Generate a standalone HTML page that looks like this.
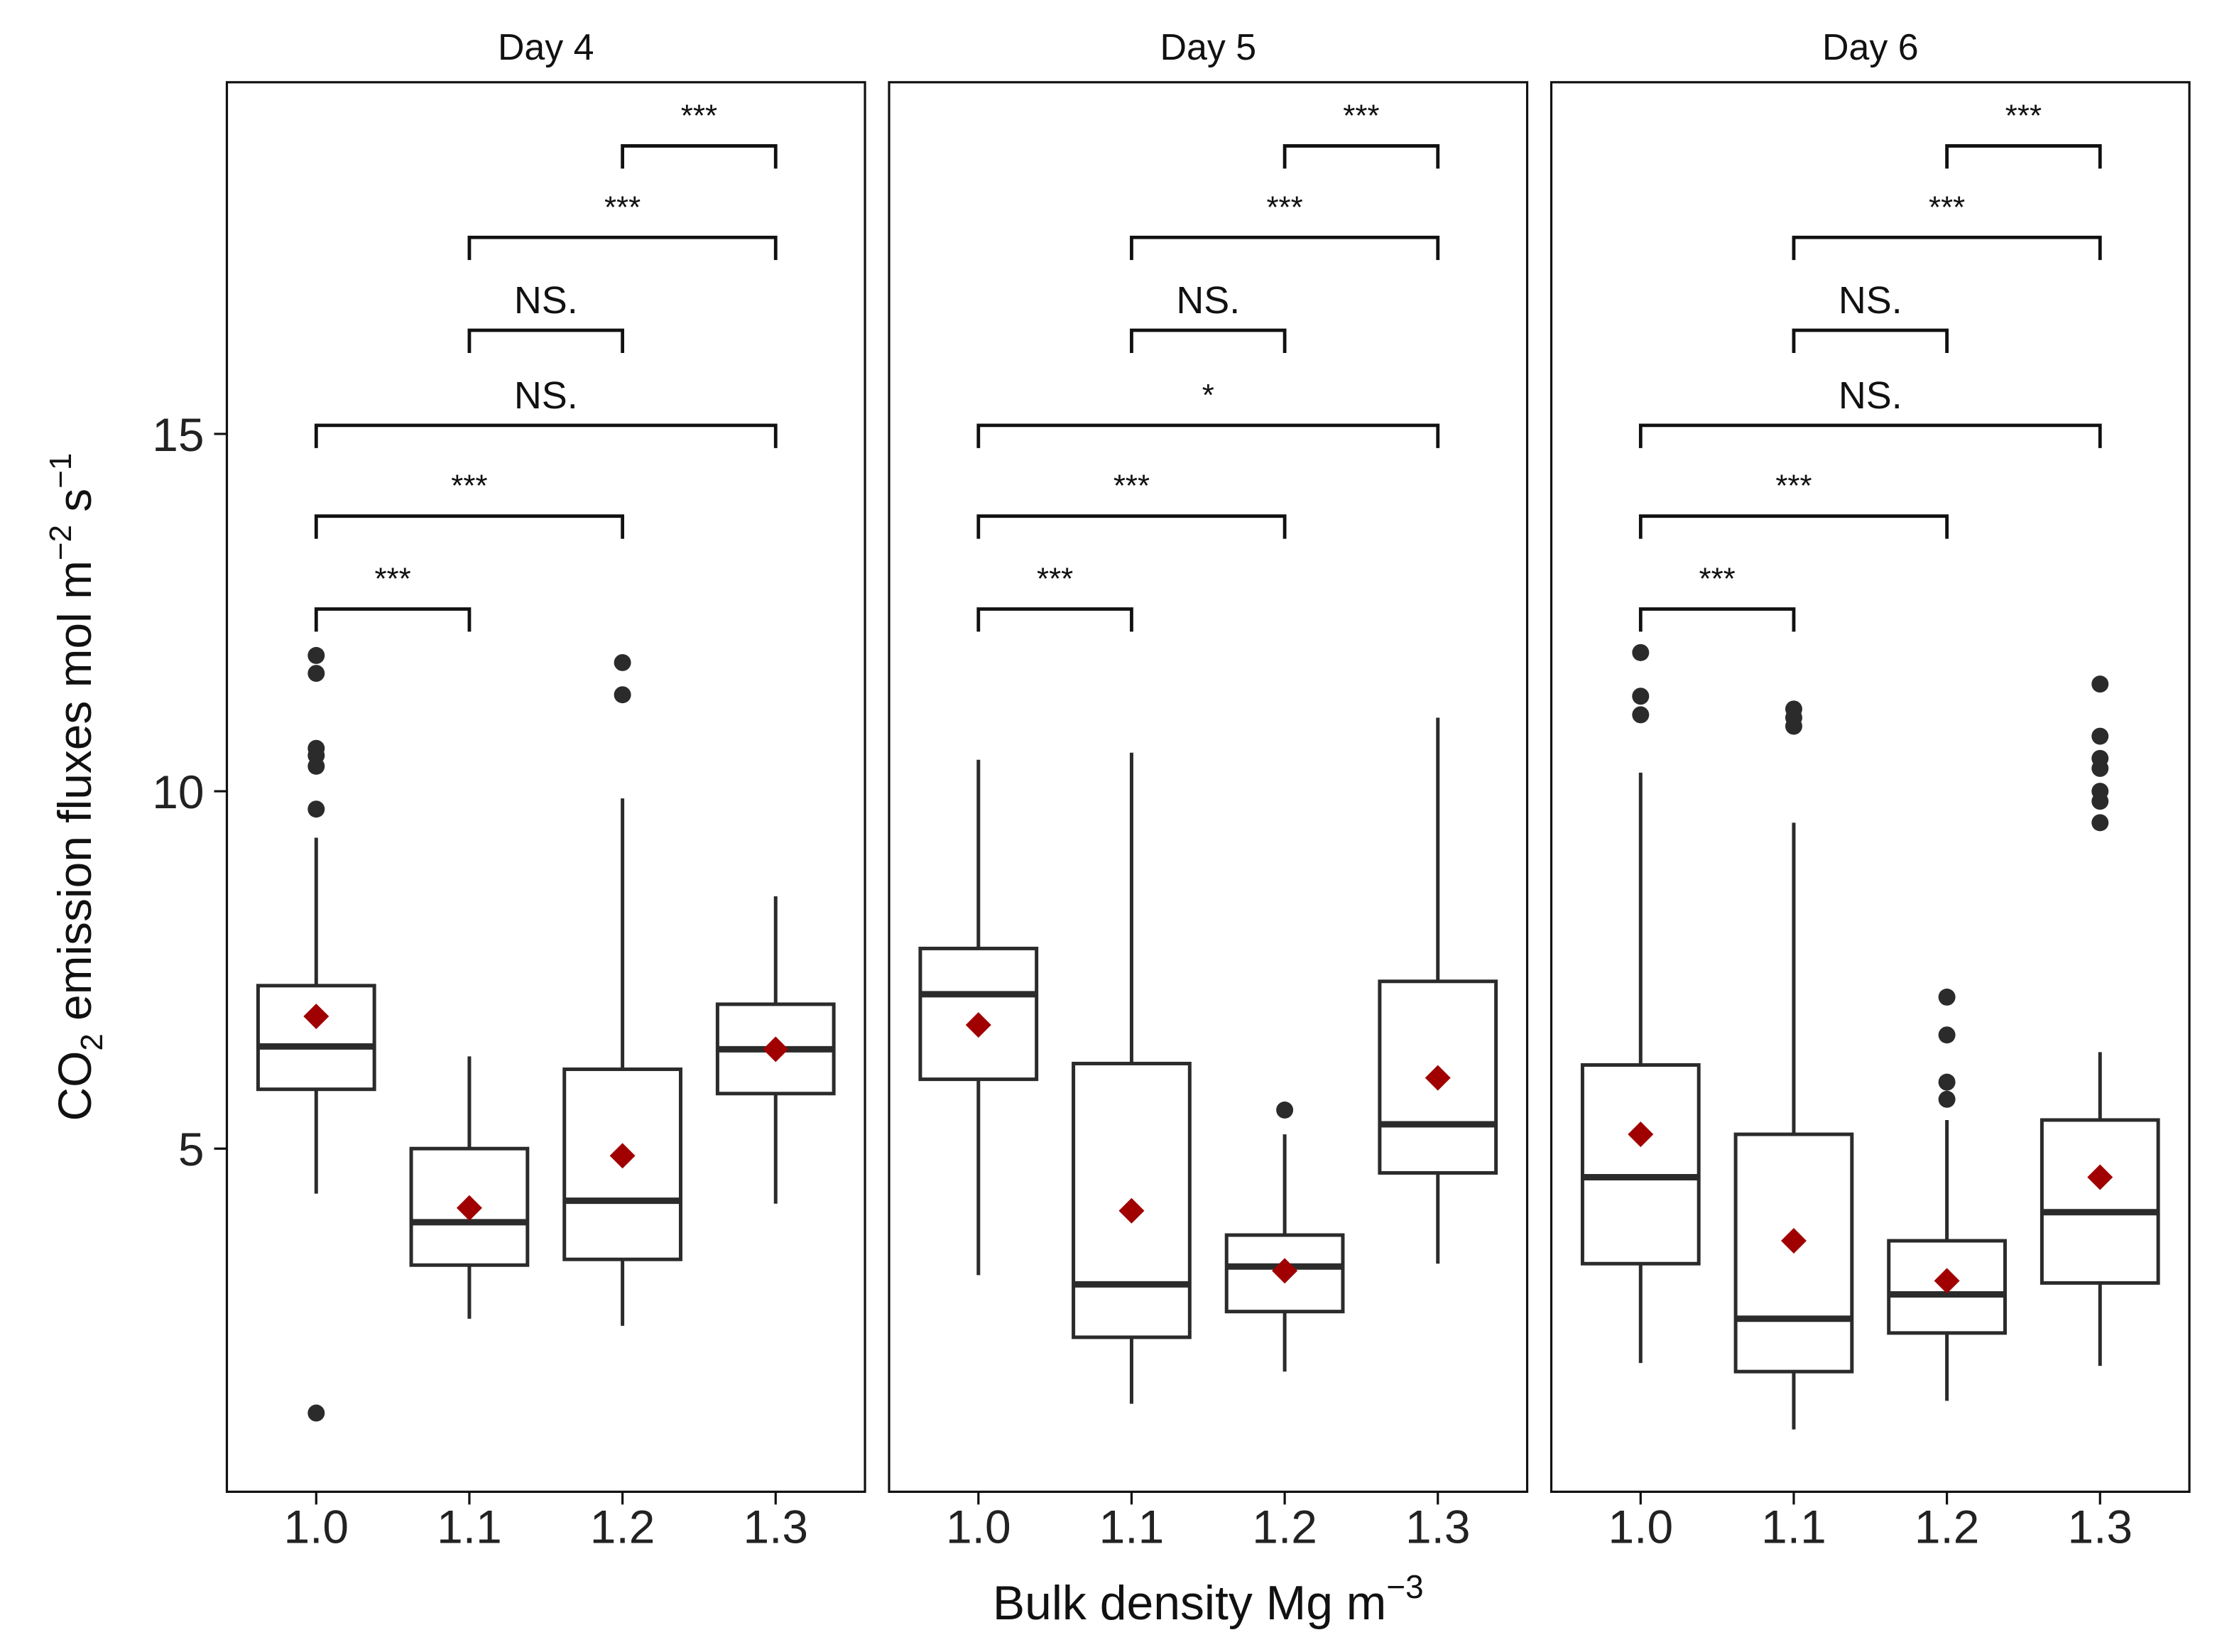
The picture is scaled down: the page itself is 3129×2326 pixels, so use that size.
<!DOCTYPE html>
<html><head><meta charset="utf-8"><style>
html,body{margin:0;padding:0;background:#fff;}
svg{display:block;font-family:"Liberation Sans",Arial,sans-serif;}
</style></head><body>
<svg id="chart" width="3129" height="2326" viewBox="0 0 1567 1165" preserveAspectRatio="none" xmlns="http://www.w3.org/2000/svg">
<rect width="1567" height="1165" fill="#fff"/>
<g id="plot"></g>
<text transform="translate(64,555) rotate(-90)" text-anchor="middle" font-size="33" fill="#111">CO<tspan font-size="22" dy="8">2</tspan><tspan dy="-8"> emission fluxes  mol m</tspan><tspan font-size="22" dy="-14">−2</tspan><tspan dy="14"> s</tspan><tspan font-size="22" dy="-14">−1</tspan></text>
<text x="852" y="1142" text-anchor="middle" font-size="34" fill="#111">Bulk density  Mg m<tspan font-size="23" dy="-15">−3</tspan></text>
</svg>
<script>
const panels = ["Day 4","Day 5","Day 6"];
const categories = ["1.0","1.1","1.2","1.3"];
const yTicks = [5,10,15];
// [low whisker, Q1, median, Q3, high whisker]
const boxesDay4 = [[4.37,5.83,6.43,7.28,9.35],[2.62,3.37,3.97,5.0,6.29],[2.52,3.45,4.27,6.11,9.9],[4.23,5.77,6.39,7.02,8.53]];
const boxesDay5 = [[3.23,5.97,7.16,7.8,10.44],[1.43,2.36,3.1,6.19,10.54],[1.88,2.72,3.35,3.79,5.2],[3.39,4.66,5.34,7.34,11.03]];
const boxesDay6 = [[2.0,3.39,4.6,6.17,10.26],[1.07,1.88,2.62,5.2,9.56],[1.47,2.42,2.96,3.71,5.4],[1.96,3.12,4.11,5.4,6.35]];
const meansDay4 = [6.85,4.17,4.9,6.39];
const meansDay5 = [6.73,4.13,3.29,5.99];
const meansDay6 = [5.2,3.71,3.15,4.6];
const outliersDay4 = [[11.9,11.65,10.6,10.5,10.35,9.75,1.3],[],[11.8,11.35],[]];
const outliersDay5 = [[],[],[5.54],[]];
const outliersDay6 = [[11.94,11.33,11.07],[11.15,11.03,10.91],[5.69,5.93,6.59,7.12],[11.5,10.77,10.46,10.32,10.0,9.86,9.56]];
// brackets: [from, to, level(value), label]
const bracketsDay4 = [[0,1,12.55,"***"],[0,2,13.85,"***"],[0,3,15.12,"NS."],[1,2,16.45,"NS."],[1,3,17.75,"***"],[2,3,19.03,"***"]];
const bracketsDay5 = [[0,1,12.55,"***"],[0,2,13.85,"***"],[0,3,15.12,"*"],[1,2,16.45,"NS."],[1,3,17.75,"***"],[2,3,19.03,"***"]];
const bracketsDay6 = [[0,1,12.55,"***"],[0,2,13.85,"***"],[0,3,15.12,"NS."],[1,2,16.45,"NS."],[1,3,17.75,"***"],[2,3,19.03,"***"]];

const boxes=[boxesDay4,boxesDay5,boxesDay6], means=[meansDay4,meansDay5,meansDay6],
 outs=[outliersDay4,outliersDay5,outliersDay6], brs=[bracketsDay4,bracketsDay5,bracketsDay6];
const panelX=[160,627,1094], panelW=450, panelTop=58, panelBottom=1052;
function yScale(v){return 810-(v-5)*50.4;}
function xScale(p,i){return panelX[p]+63+108*i;}
const SVGNS="http://www.w3.org/2000/svg", plotG=document.getElementById('plot');
function mk(t,a,parent){const e=document.createElementNS(SVGNS,t);for(const k in a)e.setAttribute(k,a[k]);(parent||plotG).appendChild(e);return e;}
const C="#2b2b2b";
panels.forEach((name,p)=>{
  const pg=mk('g',{});
  
  
  const fr=mk('rect',{x:panelX[p],y:panelTop,width:panelW,height:panelBottom-panelTop,fill:'none',stroke:'#111','stroke-width':1.6},pg);
  
  
  const st=mk('text',{x:panelX[p]+panelW/2,y:42,'text-anchor':'middle','font-size':26,fill:'#111'},pg);st.textContent=name;
  
  
  if(p===0){yTicks.forEach(t=>{
    mk('line',{x1:panelX[0]-9,x2:panelX[0],y1:yScale(t),y2:yScale(t),stroke:'#111','stroke-width':1.6},pg);
    const tl=mk('text',{x:panelX[0]-16,y:yScale(t)+12,'text-anchor':'end','font-size':33,fill:'#222'},pg);tl.textContent=t;
    
    
  });}
  categories.forEach((c,i)=>{
    const x=xScale(p,i);
    mk('line',{x1:x,x2:x,y1:panelBottom,y2:panelBottom+9,stroke:'#111','stroke-width':1.6},pg);
    const xl=mk('text',{x:x,y:panelBottom+36,'text-anchor':'middle','font-size':33,fill:'#222'},pg);xl.textContent=c;
    
    
    const b=boxes[p][i];
    const bg=mk('g',{},pg);
    
    
    mk('line',{x1:x,x2:x,y1:yScale(b[0]),y2:yScale(b[1]),stroke:C,'stroke-width':2.5},bg);
    mk('line',{x1:x,x2:x,y1:yScale(b[3]),y2:yScale(b[4]),stroke:C,'stroke-width':2.5},bg);
    mk('rect',{x:x-41,y:yScale(b[3]),width:82,height:yScale(b[1])-yScale(b[3]),fill:'#fff',stroke:C,'stroke-width':2.5},bg);
    mk('line',{x1:x-41,x2:x+41,y1:yScale(b[2]),y2:yScale(b[2]),stroke:C,'stroke-width':4.5},bg);
    outs[p][i].forEach(o=>{const d=mk('circle',{cx:x,cy:yScale(o),r:6,fill:C},bg);
      
      });
    const my=yScale(means[p][i]);
    const m=mk('polygon',{points:`${x},${my-9} ${x+9},${my} ${x},${my+9} ${x-9},${my}`,fill:'#a00000'},bg);
    
    
  });
  brs[p].forEach(br=>{
    const x1=xScale(p,br[0]),x2=xScale(p,br[1]),y=yScale(br[2]);
    const bk=mk('path',{d:`M${x1},${y+16} V${y} H${x2} V${y+16}`,fill:'none',stroke:'#111','stroke-width':2.4},pg);
    
    
    const isNS=br[3]==="NS.";
    const lt=mk('text',{x:(x1+x2)/2,y:isNS?y-12:y-14,'text-anchor':'middle','font-size':isNS?27:22,fill:'#111'},pg);lt.textContent=br[3];
    
    
  });
});
</script>
</body></html>
